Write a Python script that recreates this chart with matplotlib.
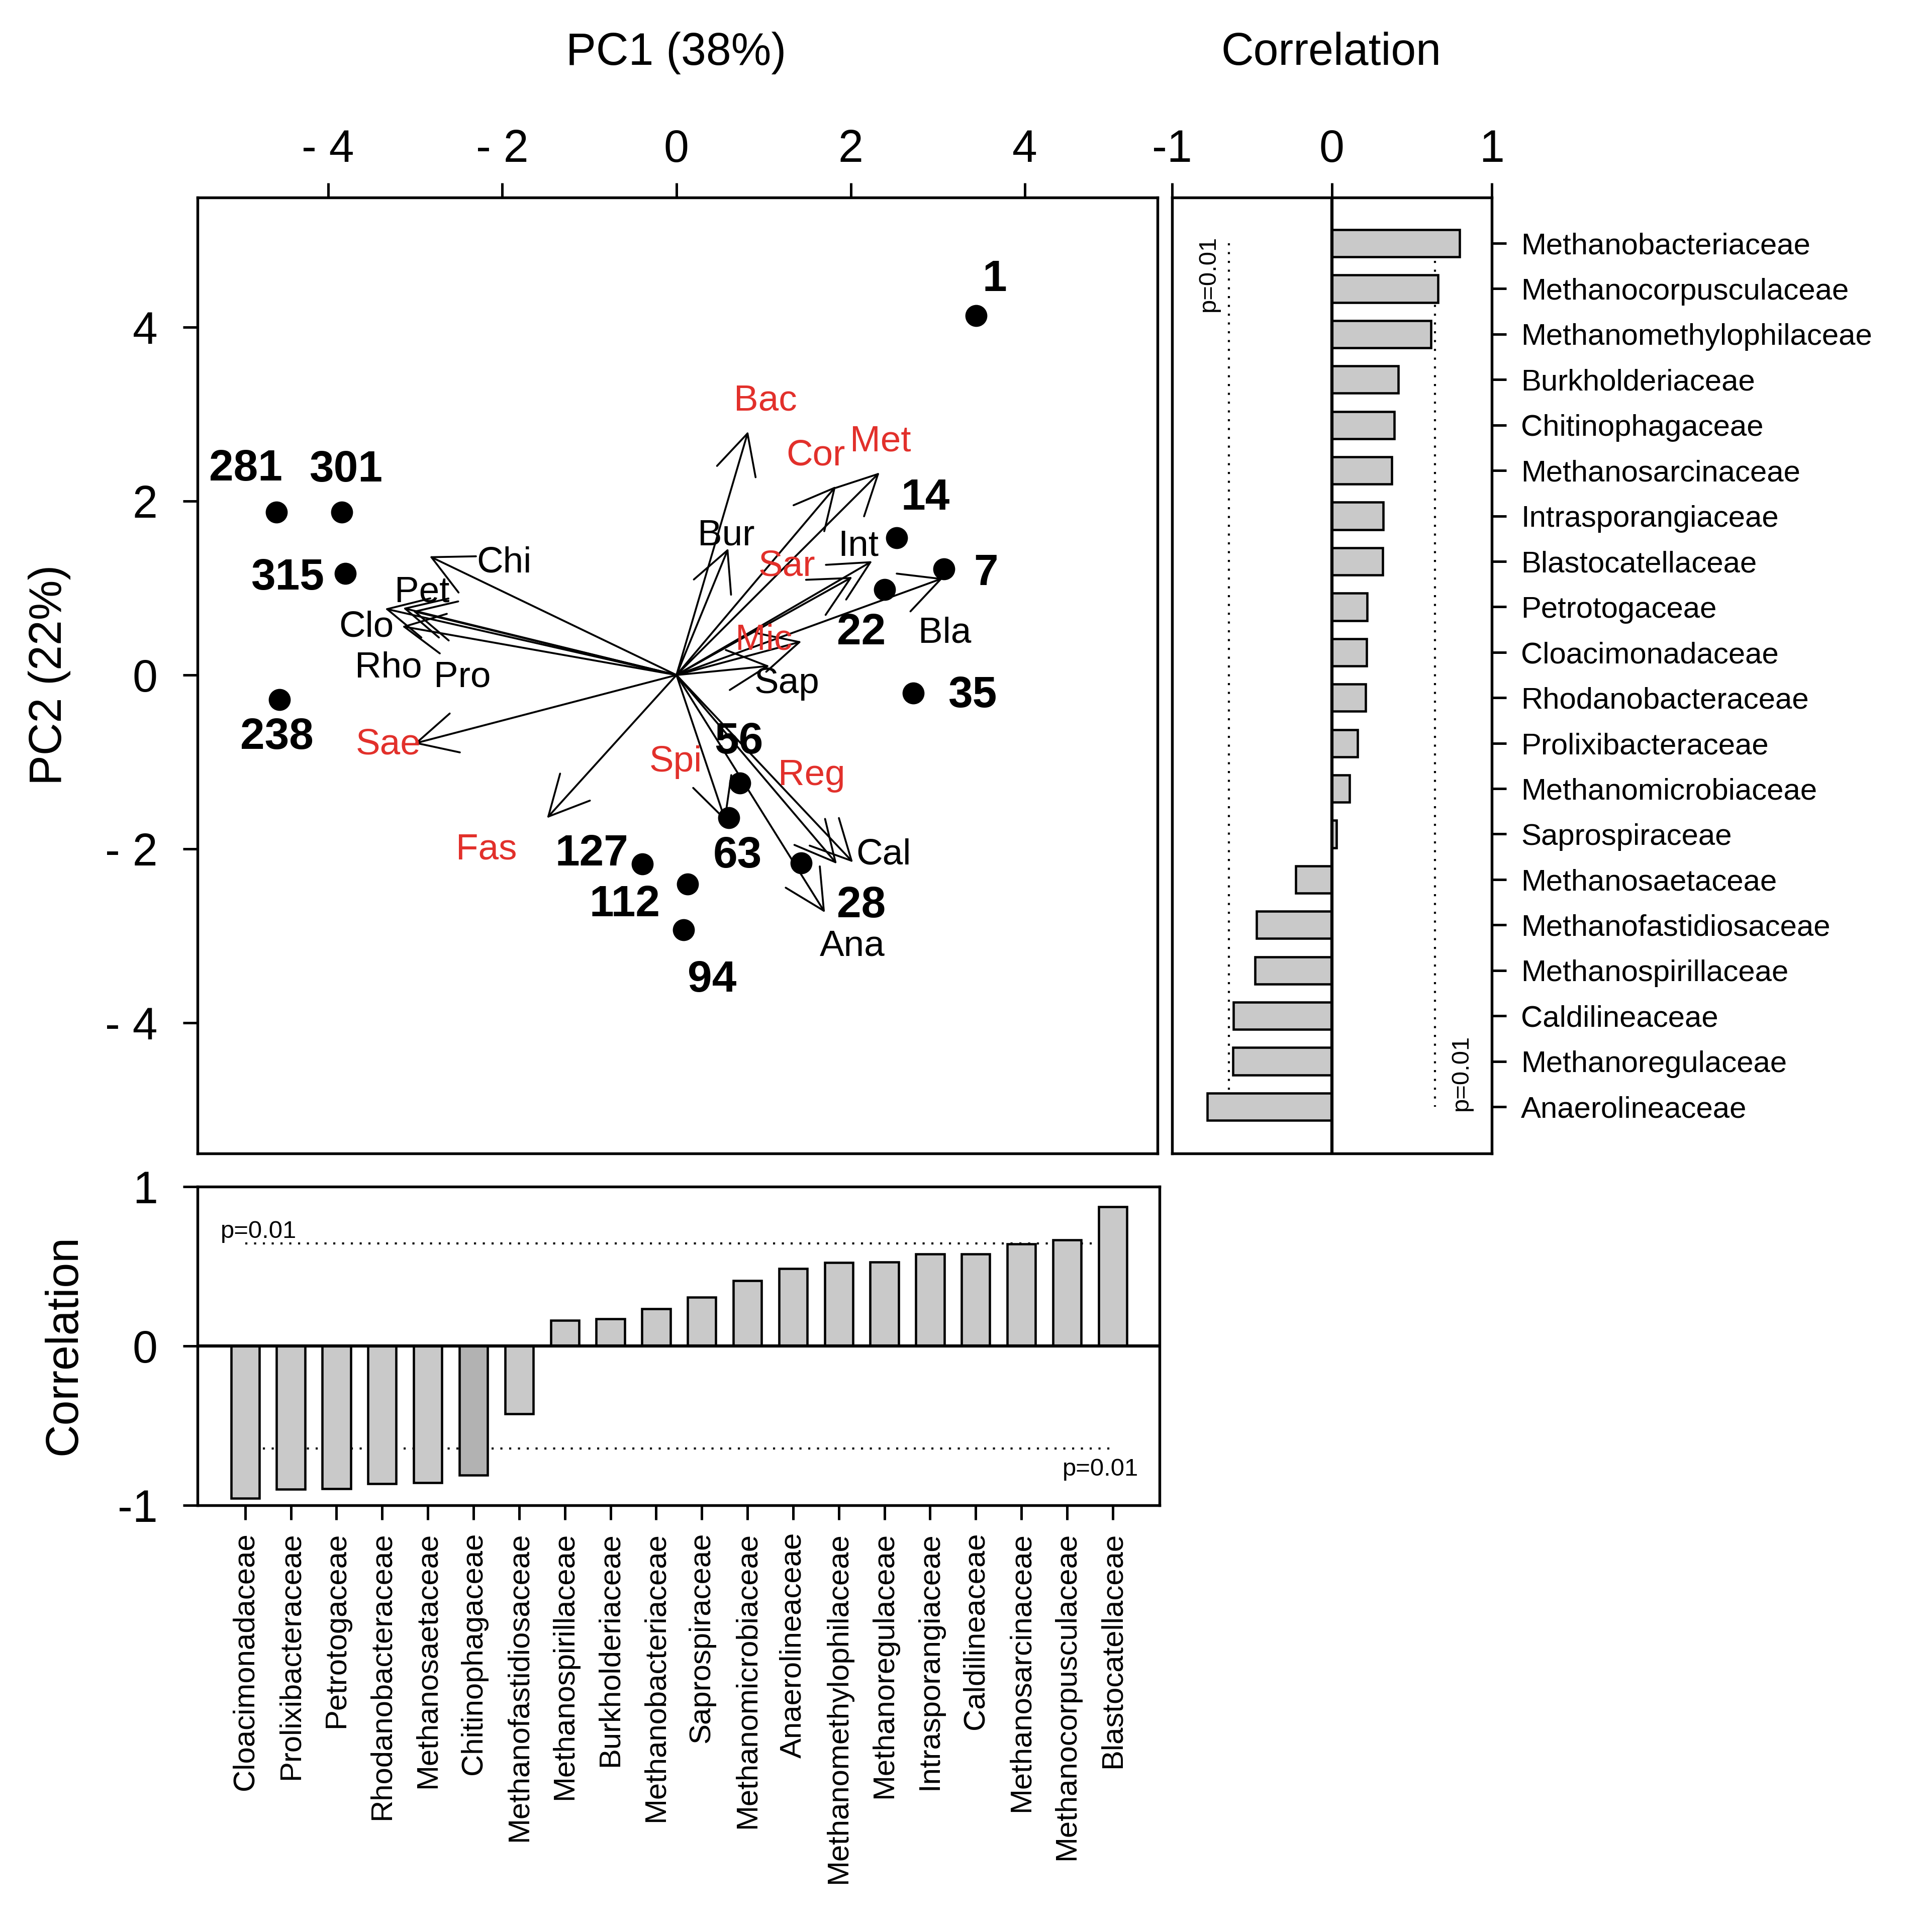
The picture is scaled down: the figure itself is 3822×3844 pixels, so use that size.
import matplotlib
matplotlib.use('Agg')
import matplotlib.pyplot as plt
import numpy as np

plt.rcParams['font.family'] = ['Liberation Sans', 'DejaVu Sans']

# ---------------- data ----------------
sample_ids = ['1', '281', '301', '315', '238', '14', '7', '22', '35',
              '56', '63', '28', '127', '112', '94']
pc1_scores = [3.44, -4.59, -3.84, -3.80, -4.56, 2.53, 3.07, 2.39, 2.72,
              0.73, 0.60, 1.43, -0.39, 0.13, 0.08]
pc2_scores = [4.13, 1.87, 1.87, 1.17, -0.28, 1.58, 1.22, 0.98, -0.21,
              -1.24, -1.64, -2.16, -2.17, -2.40, -2.93]

families = ['Methanobacteriaceae', 'Methanocorpusculaceae', 'Methanomethylophilaceae',
            'Burkholderiaceae', 'Chitinophagaceae', 'Methanosarcinaceae',
            'Intrasporangiaceae', 'Blastocatellaceae', 'Petrotogaceae',
            'Cloacimonadaceae', 'Rhodanobacteraceae', 'Prolixibacteraceae',
            'Methanomicrobiaceae', 'Saprospiraceae', 'Methanosaetaceae',
            'Methanofastidiosaceae', 'Methanospirillaceae', 'Caldilineaceae',
            'Methanoregulaceae', 'Anaerolineaceae']
abbrev = ['Bac', 'Cor', 'Met', 'Bur', 'Chi', 'Sar', 'Int', 'Bla', 'Pet', 'Clo',
          'Rho', 'Pro', 'Mic', 'Sap', 'Sae', 'Fas', 'Spi', 'Cal', 'Reg', 'Ana']
methanogen = [True, True, True, False, False, True, False, False, False, False,
              False, False, True, False, True, True, True, False, True, False]
corr_pc1 = [0.235, 0.666, 0.523, 0.17, -0.81, 0.642, 0.577, 0.874, -0.897, -0.956,
            -0.865, -0.90, 0.41, 0.305, -0.86, -0.425, 0.161, 0.579, 0.526, 0.487]
corr_pc2 = [0.80, 0.665, 0.62, 0.416, 0.39, 0.374, 0.322, 0.318, 0.22, 0.218,
            0.21, 0.16, 0.11, 0.03, -0.225, -0.47, -0.48, -0.615, -0.62, -0.78]
arrow_scale = 3.5
p_threshold = 0.645

# label positions for the loading arrows (data coords of main panel)
arrow_label_pos = {
    'Bac': (1.02, 3.15), 'Cor': (1.60, 2.52), 'Met': (2.34, 2.68), 'Bur': (0.57, 1.60),
    'Sar': (1.27, 1.25), 'Int': (2.09, 1.48), 'Bla': (3.08, 0.48), 'Chi': (-1.98, 1.29),
    'Pet': (-2.92, 0.95), 'Clo': (-3.56, 0.55), 'Rho': (-3.31, 0.08), 'Pro': (-2.46, -0.03),
    'Mic': (1.00, 0.40), 'Sap': (1.27, -0.10), 'Sae': (-3.31, -0.80), 'Fas': (-2.18, -2.01),
    'Spi': (-0.01, -1.00), 'Reg': (1.55, -1.16), 'Cal': (2.38, -2.07), 'Ana': (2.02, -3.12)}
# sample label offsets (display px, x right / y down)
sample_label_off = {
    '1': (15, -29), '281': (-25, -35), '301': (3, -34), '315': (-47, 4), '238': (-2, 31),
    '14': (23, -32), '7': (34, 4), '22': (-19, 35), '35': (48, 2), '56': (-1, -33),
    '63': (7, 31), '28': (49, 35), '127': (-41, -8), '112': (-51, 17), '94': (23, 41)}

RED = '#e2302b'
BAR = '#c9c9c9'
BAR_DARK = '#b2b2b2'

# ---------------- figure ----------------
fig = plt.figure(figsize=(3822 / 300, 3844 / 300), dpi=300)
W, H = 1557.0, 1566.0
PX = 0.589  # points per reference display px


def rect(l, t, r, b):
    return [l / W, 1 - b / H, (r - l) / W, (b - t) / H]


ax = fig.add_axes(rect(160, 160, 938, 935))
axr = fig.add_axes(rect(950, 160, 1209, 935))
axb = fig.add_axes(rect(160, 962, 940, 1220))

for a in (ax, axr, axb):
    for s in a.spines.values():
        s.set_linewidth(1.3)

TICK_FS = 21.5
# ---- main biplot ----
ax.set_xlim(-5.5, 5.52)
ax.set_ylim(-5.5, 5.49)
ax.xaxis.tick_top()
ticks = [-4, -2, 0, 2, 4]
tlabels = ['- 4', '- 2', '0', '2', '4']
ax.set_xticks(ticks)
ax.set_xticklabels(tlabels)
ax.set_yticks(ticks)
ax.set_yticklabels(tlabels)
ax.tick_params(axis='both', direction='out', length=7, width=1.2, labelsize=TICK_FS)
ax.tick_params(axis='x', pad=5.5)
ax.tick_params(axis='y', pad=12)

for i, ab in enumerate(abbrev):
    tip = (arrow_scale * corr_pc1[i], arrow_scale * corr_pc2[i])
    ax.annotate('', xy=tip, xytext=(0, 0),
                arrowprops=dict(arrowstyle='->,head_length=0.95,head_width=0.48',
                                lw=0.9, color='black', shrinkA=0, shrinkB=0,
                                mutation_scale=20))
    lx, ly = arrow_label_pos[ab]
    ax.text(lx, ly, ab, fontsize=17.5, color=RED if methanogen[i] else 'black',
            ha='center', va='center')

ax.plot(pc1_scores, pc2_scores, 'o', ms=9.5, color='black', zorder=5)
for sid, x, y in zip(sample_ids, pc1_scores, pc2_scores):
    dx, dy = sample_label_off[sid]
    ax.annotate(sid, xy=(x, y), xytext=(dx * PX, -dy * PX), textcoords='offset points',
                fontsize=21, fontweight='bold', ha='center', va='center')

# ---- right panel: correlation with PC2 ----
order_r = np.argsort(-np.array(corr_pc2), kind='stable')
pos_r = np.arange(len(families))
vals_r = np.array(corr_pc2)[order_r]
axr.barh(pos_r, vals_r, height=0.6, color=BAR, edgecolor='black', linewidth=1.1, zorder=3)
axr.set_xlim(-1, 1)
axr.set_ylim(len(families) - 1 + 1.03, -1.01)
axr.axvline(0, color='black', lw=1.5, zorder=4)
axr.plot([-p_threshold, -p_threshold], [pos_r[0], pos_r[-1]], color='black',
         lw=1.0, linestyle=(0, (1, 3.2)))
axr.plot([p_threshold, p_threshold], [pos_r[0], pos_r[-1]], color='black',
         lw=1.0, linestyle=(0, (1, 3.2)))
axr.text(-0.772, 0.67, 'p=0.01', rotation=90, fontsize=11.8, ha='center', va='center')
axr.text(0.81, 18.25, 'p=0.01', rotation=90, fontsize=11.8, ha='center', va='center')
axr.xaxis.tick_top()
axr.set_xticks([-1, 0, 1])
axr.set_xticklabels(['-1', '0', '1'])
axr.yaxis.tick_right()
axr.set_yticks(pos_r)
axr.set_yticklabels([families[k] for k in order_r])
axr.tick_params(axis='x', direction='out', length=7, width=1.2, labelsize=TICK_FS, pad=5.5)
axr.tick_params(axis='y', direction='out', length=7, width=1.2, labelsize=14.4, pad=7)

# ---- bottom panel: correlation with PC1 ----
order_b = np.argsort(np.array(corr_pc1), kind='stable')
pos_b = np.arange(len(families))
vals_b = np.array(corr_pc1)[order_b]
cols_b = [BAR_DARK if families[k] == 'Chitinophagaceae' else BAR for k in order_b]
axb.bar(pos_b, vals_b, width=0.62, color=cols_b, edgecolor='black', linewidth=1.1, zorder=3)
axb.set_xlim(-1.046, len(families) - 1 + 1.03)
axb.set_ylim(-1, 1)
axb.axhline(0, color='black', lw=1.5, zorder=4)
axb.plot([pos_b[0], pos_b[-1]], [p_threshold, p_threshold], color='black',
         lw=1.0, linestyle=(0, (1, 3.2)))
axb.plot([pos_b[0], pos_b[-1]], [-p_threshold, -p_threshold], color='black',
         lw=1.0, linestyle=(0, (1, 3.2)))
axb.text(-0.54, 0.72, 'p=0.01', fontsize=11.8, ha='left', va='center')
axb.text(19.56, -0.775, 'p=0.01', fontsize=11.8, ha='right', va='center')
axb.set_yticks([-1, 0, 1])
axb.set_yticklabels(['-1', '0', '1'])
axb.set_xticks(pos_b)
axb.set_xticklabels([families[k] for k in order_b], rotation=90)
axb.tick_params(axis='y', direction='out', length=7, width=1.2, labelsize=TICK_FS, pad=12)
axb.tick_params(axis='x', direction='out', length=7, width=1.2, labelsize=14.4, pad=6)

# ---- titles ----
fig.text(548 / W, 1 - 43 / H, 'PC1 (38%)', fontsize=21.5, ha='center', va='center')
fig.text(1079 / W, 1 - 43 / H, 'Correlation', fontsize=21.5, ha='center', va='center')
fig.text(40 / W, 1 - 547 / H, 'PC2 (22%)', fontsize=21.5, ha='center', va='center',
         rotation=90)
fig.text(52 / W, 1 - 1090 / H, 'Correlation', fontsize=21.5, ha='center', va='center',
         rotation=90)

fig.savefig('out.png', dpi=300, facecolor='white')
